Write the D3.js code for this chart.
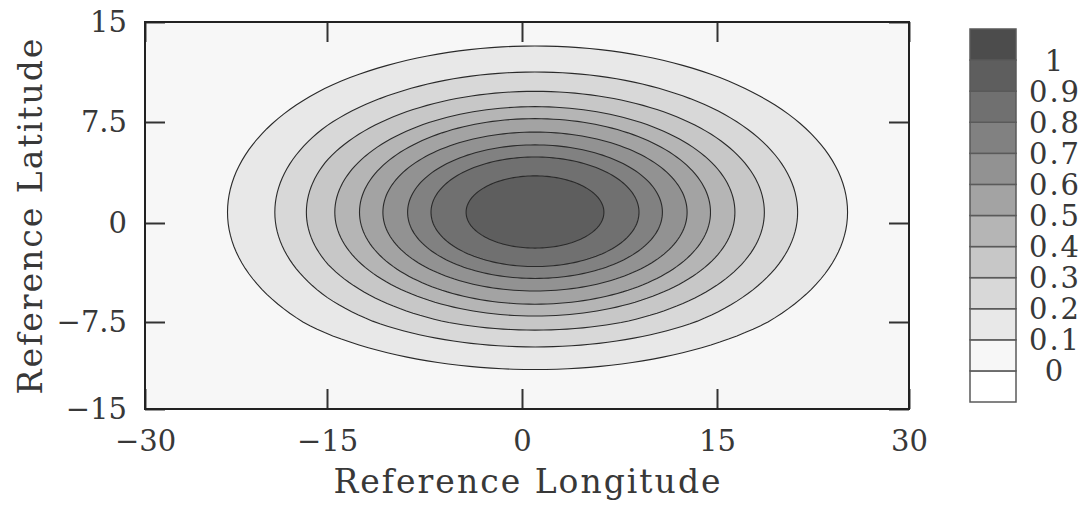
<!DOCTYPE html>
<html>
<head>
<meta charset="utf-8">
<script src="https://cdn.jsdelivr.net/npm/d3@7"></script>
<style>
body { margin: 0; background: #fff; }
text { font-family: "DejaVu Serif", serif; fill: #383838; }
</style>
</head>
<body>
<div id="chart"></div>
<script>
// contour levels, ellipse half-widths (degrees)
var levels = [0.1, 0.2, 0.3, 0.4, 0.5, 0.6, 0.7, 0.8, 0.9];
var lonRadius = [24.2, 20.3, 17.7, 15.4, 13.5, 11.7, 9.8, 8.0, 5.3];
var latRadius = [12.4, 10.45, 9.0, 7.85, 6.95, 5.95, 5.0, 4.1, 2.7];
var centerLon = 1.0, centerLat = 0.8;

var xTicks = [-30, -15, 0, 15, 30];
var yTicks = [-15, -7.5, 0, 7.5, 15];

// colour bar: label values and the grey of each band, from below 0 up to above 1
var cbValues = [0, 0.1, 0.2, 0.3, 0.4, 0.5, 0.6, 0.7, 0.8, 0.9, 1];
var cbLabels = ["0", "0.1", "0.2", "0.3", "0.4", "0.5", "0.6", "0.7", "0.8", "0.9", "1"];
var bandColors = ["#ffffff", "#f7f7f7", "#e8e8e8", "#d8d8d8", "#c7c7c7", "#b5b5b5",
                  "#a3a3a3", "#929292", "#818181", "#707070", "#5e5e5e", "#4c4c4c"];

var W = 1089, H = 506;
var pLeft = 145, pRight = 909, pTop = 22, pBottom = 409;

var svg = d3.select("#chart").append("svg")
    .attr("width", W)
    .attr("height", H);

// tick positions in the picture are not evenly spaced, so piecewise scales
var x = d3.scaleLinear()
    .domain(xTicks)
    .range([pLeft, 327, 522, 717, pRight]);

var y = d3.scaleLinear()
    .domain(yTicks)
    .range([pBottom, 322, 223, 122, pTop]);

svg.append("rect")
    .attr("x", pLeft).attr("y", pTop)
    .attr("width", pRight - pLeft).attr("height", pBottom - pTop)
    .attr("fill", bandColors[1]);

var plot = svg.append("g");

var angles = d3.range(0, 360, 2);
var line = d3.line().curve(d3.curveLinearClosed);

plot.selectAll("path.contour")
    .data(levels)
    .enter()
    .append("path")
    .attr("class", "contour")
    .attr("d", function (d, i) {
        var pts = angles.map(function (a) {
            var t = a * Math.PI / 180;
            return [x(centerLon + lonRadius[i] * Math.cos(t)),
                    y(centerLat + latRadius[i] * Math.sin(t))];
        });
        return line(pts);
    })
    .attr("fill", function (d, i) { return bandColors[i + 2]; })
    .attr("stroke", "#2a2a2a")
    .attr("stroke-width", 1.1);

// axes, ticks pointing inward
var fmt = d3.format("");
svg.append("g")
    .attr("transform", "translate(0," + pBottom + ")")
    .call(d3.axisBottom(x).tickValues(xTicks).tickFormat(fmt).tickSizeInner(-20).tickSizeOuter(0).tickPadding(21));
svg.append("g")
    .attr("transform", "translate(" + pLeft + ",0)")
    .call(d3.axisLeft(y).tickValues(yTicks).tickFormat(fmt).tickSizeInner(-20).tickSizeOuter(0).tickPadding(18));
svg.append("g")
    .attr("transform", "translate(0," + pTop + ")")
    .call(d3.axisTop(x).tickValues(xTicks).tickSizeInner(-20).tickSizeOuter(0).tickFormat(""));
svg.append("g")
    .attr("transform", "translate(" + pRight + ",0)")
    .call(d3.axisRight(y).tickValues(yTicks).tickSizeInner(-20).tickSizeOuter(0).tickFormat(""));

svg.selectAll(".domain").remove();
svg.selectAll(".tick line").attr("stroke", "#333").attr("stroke-width", 2);
svg.selectAll(".tick text")
    .attr("font-size", 29)
    .attr("fill", "#383838")
    .style("font-family", "DejaVu Serif");

svg.append("rect")
    .attr("x", pLeft).attr("y", pTop)
    .attr("width", pRight - pLeft).attr("height", pBottom - pTop)
    .attr("fill", "none")
    .attr("stroke", "#222")
    .attr("stroke-width", 2);

// axis titles
svg.append("text")
    .attr("x", (pLeft + pRight) / 2 + 1)
    .attr("y", 493)
    .attr("text-anchor", "middle")
    .attr("font-size", 33)
    .attr("letter-spacing", 2)
    .text("Reference Longitude");

svg.append("text")
    .attr("transform", "translate(42," + ((pTop + pBottom) / 2) + ") rotate(-90)")
    .attr("text-anchor", "middle")
    .attr("font-size", 33)
    .attr("letter-spacing", 2)
    .text("Reference Latitude");

// colour bar
var cbY = d3.scaleLinear().domain([-0.1, 1.1]).range([402, 29]);
var cb = svg.append("g");

cb.selectAll("rect")
    .data(bandColors)
    .enter()
    .append("rect")
    .attr("x", 970)
    .attr("width", 46)
    .attr("y", function (d, i) { return cbY(i * 0.1); })
    .attr("height", function (d, i) { return cbY((i - 1) * 0.1) - cbY(i * 0.1); })
    .attr("fill", function (d) { return d; })
    .attr("stroke", "#5a5a5a")
    .attr("stroke-width", 1.5);

cb.selectAll("text")
    .data(cbValues)
    .enter()
    .append("text")
    .attr("x", 1055)
    .attr("y", function (d) { return cbY(d); })
    .attr("dy", "0.36em")
    .attr("text-anchor", "middle")
    .attr("font-size", 29)
    .attr("letter-spacing", 2)
    .text(function (d, i) { return cbLabels[i]; });
</script>
</body>
</html>
